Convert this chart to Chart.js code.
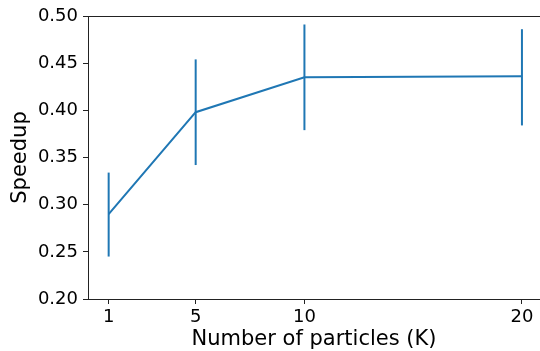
<!DOCTYPE html>
<html>
<head>
<meta charset="utf-8">
<script src="https://cdn.jsdelivr.net/npm/chart.js@4/dist/chart.umd.min.js"></script>
<style>
  html, body { margin: 0; padding: 0; background: #fff; overflow: hidden; }
  #wrap { width: 540px; height: 351px; position: relative; }
</style>
</head>
<body>
<div id="wrap"><canvas id="c"></canvas></div>
<script>
// Number of particles (thousands) and measured speedup with its spread
const particles = [1, 5, 10, 20];
const speedup   = [0.290, 0.398, 0.435, 0.436];
const errLow    = [0.245, 0.342, 0.379, 0.384];
const errHigh   = [0.334, 0.454, 0.491, 0.486];

const xTicks = [1, 5, 10, 20];
const yTicks = [0.20, 0.25, 0.30, 0.35, 0.40, 0.45, 0.50];

const BLUE = '#1f77b4';
const INK = '#222';
const FONT = 'DejaVu Sans';

// main line
const datasets = [{
  data: particles.map((p, i) => ({ x: p, y: speedup[i] })),
  borderColor: BLUE,
  borderWidth: 2,
  pointRadius: 0,
  fill: false,
  tension: 0
}];

// one vertical segment per point for the error bars
particles.forEach((p, i) => {
  datasets.push({
    data: [{ x: p, y: errLow[i] }, { x: p, y: errHigh[i] }],
    borderColor: BLUE,
    borderWidth: 2,
    pointRadius: 0,
    fill: false
  });
});

new Chart(document.getElementById('c'), {
  type: 'line',
  data: { datasets },
  options: {
    responsive: true,
    maintainAspectRatio: false,
    animation: false,
    events: [],
    layout: { padding: { top: 16, right: 0, left: 0, bottom: 0 } },
    plugins: { legend: { display: false }, tooltip: { enabled: false } },
    scales: {
      x: {
        type: 'linear',
        position: 'bottom',
        min: 0.05,
        max: 20.83,
        afterBuildTicks: s => { s.ticks = xTicks.map(v => ({ value: v })); },
        afterFit: s => { s.height = 52; },
        grid: { display: true, drawOnChartArea: false, drawTicks: true, tickLength: 5, color: INK, tickWidth: 1 },
        border: { display: true, color: INK, width: 1 },
        ticks: { color: '#000', font: { family: FONT, size: 18 }, padding: 3, maxRotation: 0, autoSkip: false },
        title: { display: true, text: 'Number of particles (K)', color: '#000', font: { family: FONT, size: 21, lineHeight: 1.1 }, padding: { top: 0, bottom: 0 } }
      },
      xTop: {
        type: 'linear',
        position: 'top',
        min: 0.05,
        max: 20.83,
        afterFit: s => { s.height = 0; },
        grid: { display: false, drawTicks: false },
        border: { display: true, color: INK, width: 1 },
        ticks: { display: false }
      },
      y: {
        type: 'linear',
        min: 0.20,
        max: 0.50,
        afterBuildTicks: s => { s.ticks = yTicks.map(v => ({ value: v })); },
        afterFit: s => { s.width = 88; },
        grid: { display: true, drawOnChartArea: false, drawTicks: true, tickLength: 5, color: INK, tickWidth: 1 },
        border: { display: true, color: INK, width: 1 },
        ticks: { color: '#000', font: { family: FONT, size: 18 }, padding: 5, callback: v => v.toFixed(2) },
        title: { display: true, text: 'Speedup', color: '#000', font: { family: FONT, size: 21, lineHeight: 1.1 }, padding: { top: 8.5, bottom: 0 } }
      }
    }
  }
});
</script>
</body>
</html>
